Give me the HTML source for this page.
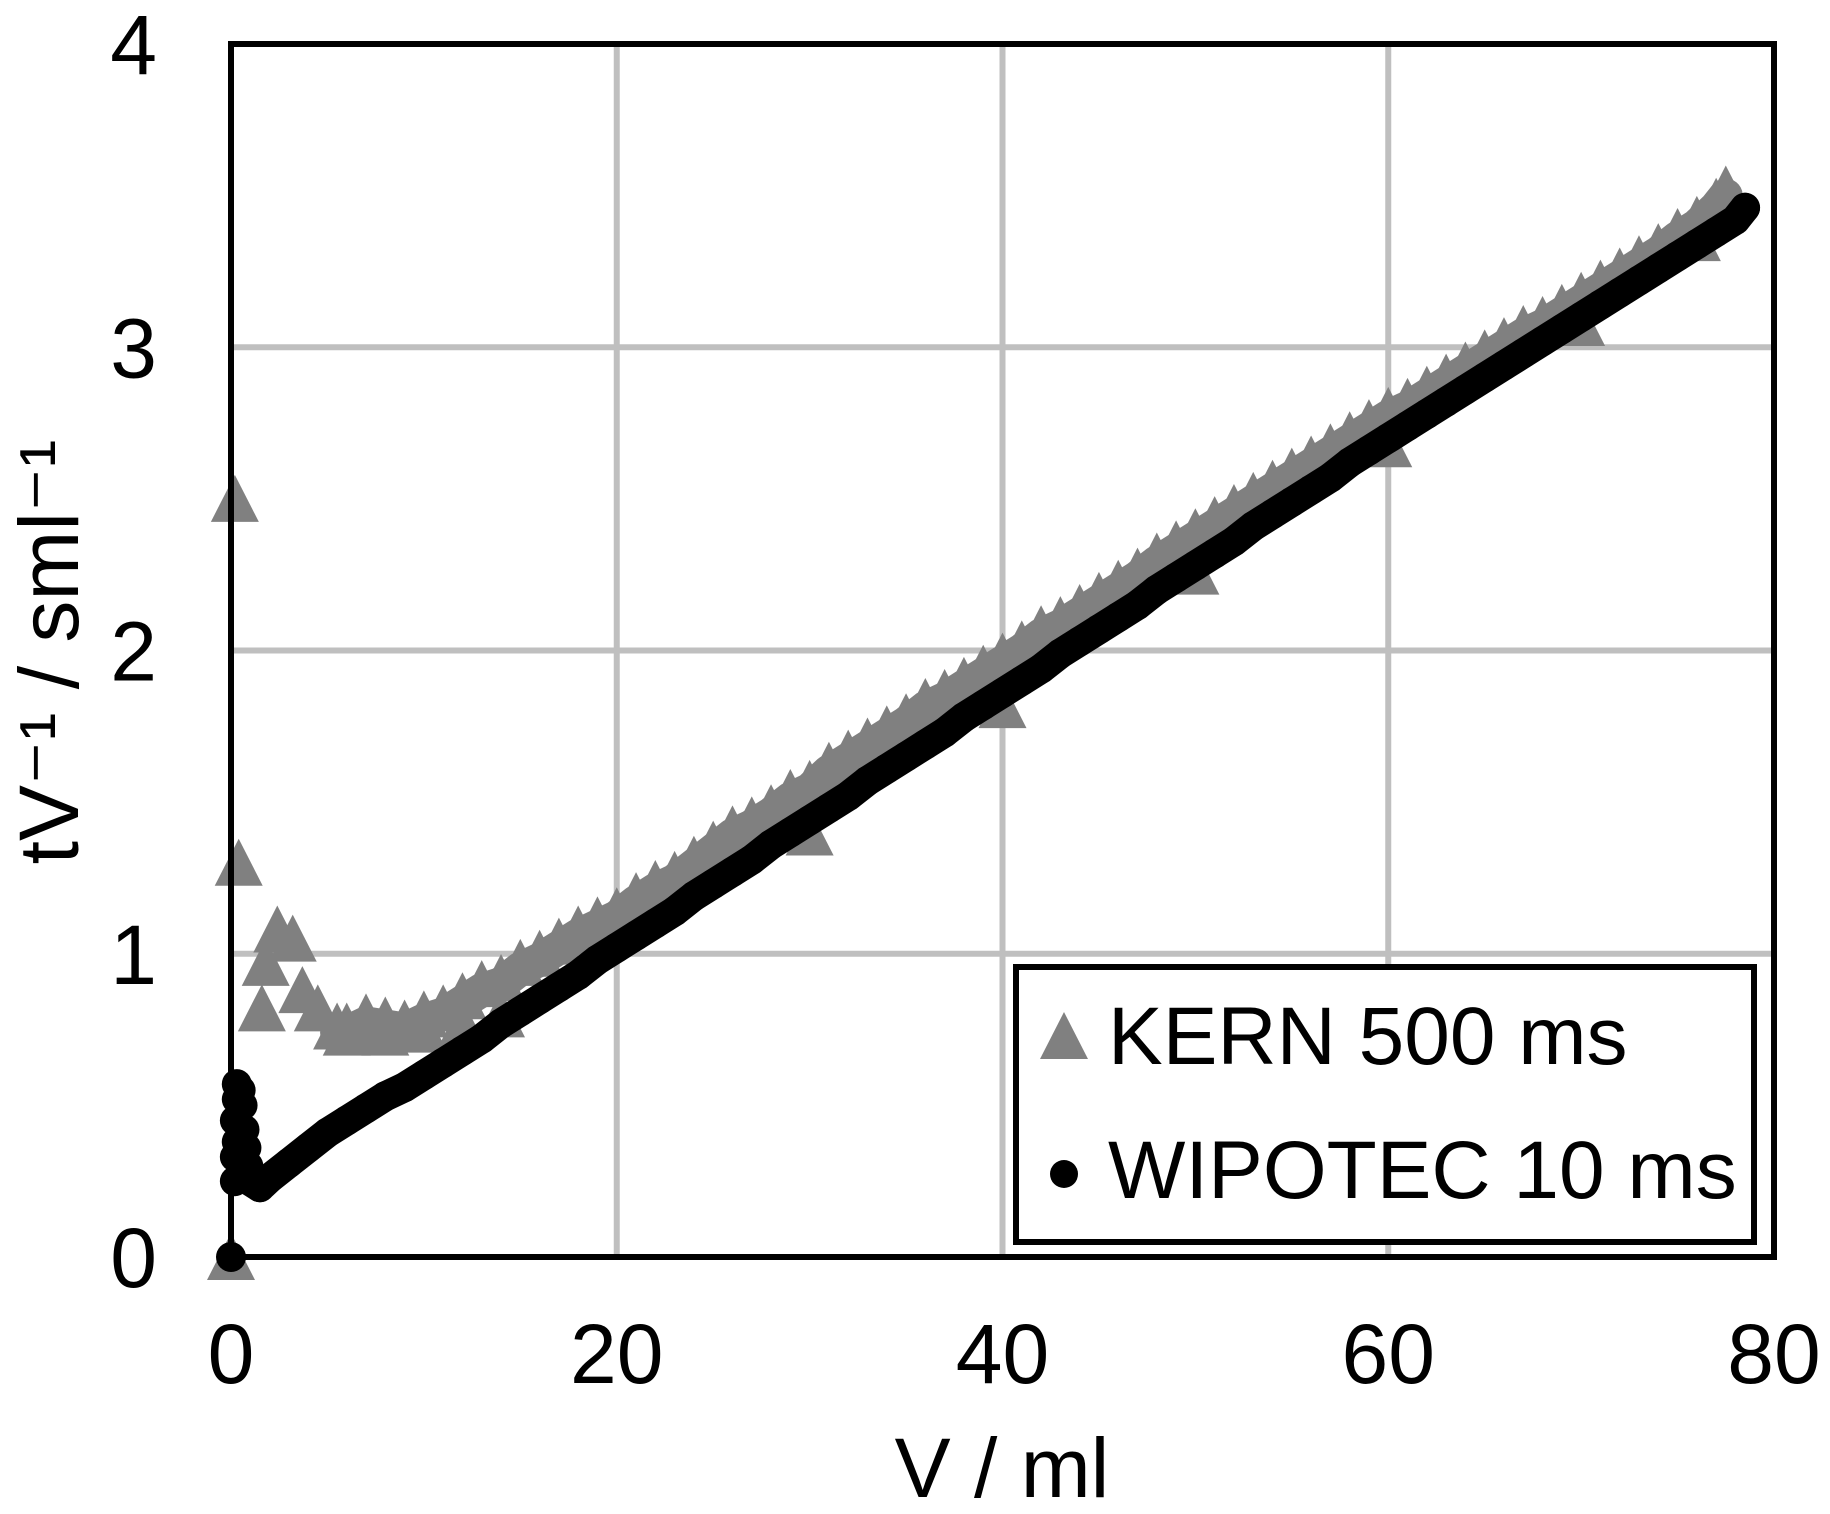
<!DOCTYPE html>
<html><head><meta charset="utf-8"><style>
html,body{margin:0;padding:0;background:#fff;}
svg{display:block;font-family:"Liberation Sans",Arial,sans-serif;}
</style></head><body>
<svg id="chart" width="1830" height="1514" viewBox="0 0 1830 1514" xmlns="http://www.w3.org/2000/svg">
<rect x="0" y="0" width="1830" height="1514" fill="#fff"/>
<g id="grid"></g>
<g id="kern"></g>
<g id="wipo"></g>
<rect x="231" y="44" width="1543" height="1213" fill="none" stroke="#000" stroke-width="6"/>
<g id="ticks"></g>
<text x="1002" y="1497" font-size="84" text-anchor="middle">V / ml</text>
<text transform="translate(78,652) rotate(-90)" font-size="84" text-anchor="middle">tV⁻¹ / sml⁻¹</text>
<g>
<rect x="1016" y="967" width="738" height="275" fill="#fff" stroke="#000" stroke-width="6"/>
<polygon points="1064,1012 1088,1059 1040,1059" fill="#808080"/>
<text x="1108" y="1064" font-size="82">KERN 500 ms</text>
<circle cx="1064" cy="1174" r="14" fill="#000"/>
<text x="1108" y="1198" font-size="82">WIPOTEC 10 ms</text>
</g>
</svg>
<script>
const xTicks=[0,20,40,60,80];
const yTicks=[0,1,2,3,4];
const kernV=[0,0.2,0.4,1.6,1.8,2.4,3.2,3.7,4.5,5.5,6,7,8,9,10,11,12,13,14,15,16,17,18,19,20,21,22,23,24,25,26,27,28,29,30,31,32,33,34,35,36,37,38,39,40,41,42,43,44,45,46,47,48,49,50,51,52,53,54,55,56,57,58,59,60,61,62,63,64,65,66,67,68,69,70,71,72,73,74,75,76,77,77.5,6,8,10,12,14,30,40,50,60,70,76];
const kernY=[0,2.5,1.3,0.82,0.97,1.08,1.05,0.88,0.82,0.76,0.76,0.79,0.78,0.77,0.8,0.82,0.86,0.9,0.92,0.97,1.0,1.04,1.08,1.11,1.14,1.19,1.23,1.26,1.31,1.36,1.41,1.44,1.48,1.53,1.56,1.62,1.66,1.7,1.74,1.78,1.83,1.86,1.9,1.94,1.98,2.02,2.07,2.1,2.14,2.18,2.22,2.26,2.31,2.35,2.39,2.43,2.47,2.51,2.55,2.59,2.63,2.67,2.71,2.75,2.79,2.82,2.86,2.9,2.94,2.98,3.02,3.06,3.09,3.13,3.17,3.21,3.25,3.29,3.33,3.38,3.42,3.48,3.52,0.74,0.74,0.75,0.77,0.8,1.4,1.82,2.26,2.68,3.08,3.36];
const wipoV=[0,0.2,0.2,0.3,0.2,0.3,0.3,0.5,0.6,0.7,0.8,0.9,1,1.5,2,3,4,5,6,7,8,9,10,11,12,13,14,15,16,17,18,19,20,21,22,23,24,25,26,27,28,29,30,31,32,33,34,35,36,37,38,39,40,41,42,43,44,45,46,47,48,49,50,51,52,53,54,55,56,57,58,59,60,61,62,63,64,65,66,67,68,69,70,71,72,73,74,75,76,77,78,78.5];
const wipoY=[0,0.25,0.33,0.38,0.45,0.52,0.57,0.55,0.5,0.42,0.36,0.3,0.25,0.23,0.26,0.31,0.36,0.41,0.45,0.49,0.53,0.56,0.6,0.64,0.68,0.72,0.77,0.81,0.85,0.89,0.93,0.98,1.02,1.06,1.1,1.14,1.19,1.23,1.27,1.31,1.36,1.4,1.44,1.48,1.52,1.57,1.61,1.65,1.69,1.73,1.78,1.82,1.86,1.9,1.94,1.99,2.03,2.07,2.11,2.15,2.2,2.24,2.28,2.32,2.36,2.41,2.45,2.49,2.53,2.57,2.62,2.66,2.7,2.74,2.78,2.82,2.86,2.9,2.94,2.98,3.02,3.06,3.1,3.14,3.18,3.22,3.26,3.3,3.34,3.38,3.42,3.46,3.48];
const X0=231,X1=1774,Y0=1257,Y1=44;
function sx(v){return X0+(v-0)/(80-0)*(X1-X0);}
function sy(v){return Y0-(v-0)/(4-0)*(Y0-Y1);}
const NS='http://www.w3.org/2000/svg';
function mk(tag,attrs,parent){const e=document.createElementNS(NS,tag);for(const k in attrs)e.setAttribute(k,attrs[k]);parent.appendChild(e);return e;}
const grid=document.getElementById('grid'),ticks=document.getElementById('ticks');
xTicks.forEach(t=>{
  const l=mk('line',{x1:sx(t),x2:sx(t),y1:Y1,y2:Y0,stroke:'#bfbfbf','stroke-width':6},grid);
  
  
  const tx=mk('text',{x:sx(t),y:1383,'font-size':84,'text-anchor':'middle'},ticks);
  tx.textContent=t;
  
  
});
yTicks.forEach(t=>{
  const l=mk('line',{x1:X0,x2:X1,y1:sy(t),y2:sy(t),stroke:'#bfbfbf','stroke-width':6},grid);
  
  
  const tx=mk('text',{x:157,y:sy(t)+30,'font-size':84,'text-anchor':'end'},ticks);
  tx.textContent=t;
  
  
});
const kg=document.getElementById('kern');
// dense band behind the main run of KERN markers (indices 9..82)
let kpts=[];
for(let i=9;i<=82;i++){kpts.push(sx(kernV[i])+','+(sy(kernY[i])+6));}
const kband=mk('polyline',{points:kpts.join(' '),fill:'none',stroke:'#808080','stroke-width':34,'stroke-linejoin':'round','stroke-linecap':'round'},kg);


kernV.forEach((v,i)=>{
  const cx=sx(v),cy=sy(kernY[i]);
  const p=mk('polygon',{points:`${cx},${cy-24} ${cx+24},${cy+23} ${cx-24},${cy+23}`,fill:'#808080'},kg);
  
  
});
const wg=document.getElementById('wipo');
let wpts=[];
for(let i=12;i<wipoV.length;i++){wpts.push(sx(wipoV[i])+','+sy(wipoY[i]));}
const wband=mk('polyline',{points:wpts.join(' '),fill:'none',stroke:'#000','stroke-width':30,'stroke-linejoin':'round','stroke-linecap':'round'},wg);


wipoV.forEach((v,i)=>{
  const c=mk('circle',{cx:sx(v),cy:sy(wipoY[i]),r:15,fill:'#000'},wg);
  
  
});
</script>
</body></html>
